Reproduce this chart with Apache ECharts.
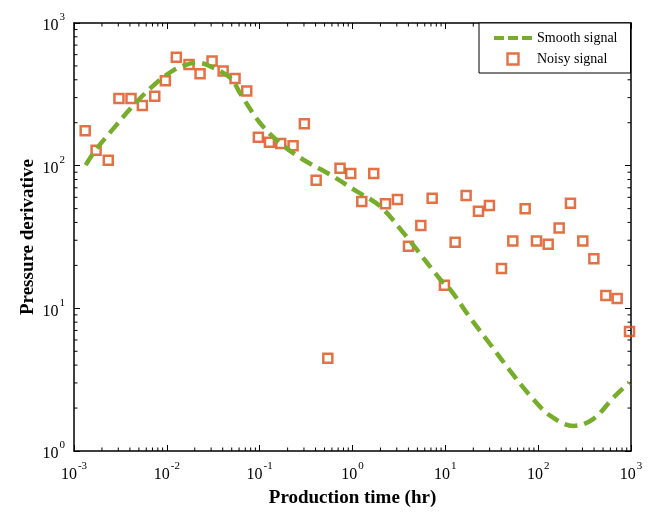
<!DOCTYPE html>
<html>
<head>
<meta charset="utf-8">
<script src="https://cdn.jsdelivr.net/npm/echarts@6/dist/echarts.min.js"></script>
<style>html,body{margin:0;padding:0;background:#fff}#c{width:651px;height:513px}</style>
</head>
<body>
<div id="c"></div>
<script>
// Smooth signal (green dashed line)
const smoothX = [0.001337,0.001714,0.002698,0.004246,0.007278,0.01197,0.01734,0.02133,0.02729,0.04887,0.06152,0.1009,0.1660,0.2958,0.5741,1.112,1.982,3.540,8.790,11.27,18.49,30.41,49.89,82.04,134.6,239.9,394.5,647.1,957.2];
const smoothY = [101,129,184,260,368,469,517,527,508,410,322,199,144,110,86.5,66,52,33.8,16,13.6,8.6,5.6,3.65,2.44,1.77,1.50,1.68,2.37,3.02];
// Noisy signal (orange squares)
const noisyX = [0.00132,0.00173,0.00234,0.00305,0.00411,0.00545,0.00741,0.00964,0.01265,0.01734,0.0228,0.0307,0.0404,0.0543,0.0726,0.0968,0.1274,0.1687,0.229,0.303,0.406,0.542,0.734,0.957,1.259,1.694,2.265,3.048,4.009,5.445,7.211,9.772,12.76,16.75,22.75,29.85,40.27,53.33,72.44,95.94,128.2,168.3,222.8,302.7,398.1,535.8,709.6,963.9];
const noisyY = [176,128,109,296,296,264,307,393,575,511,440,542,461,408,334,158,146,143,138,197,79,4.47,96,88,56,88,54,58,27.2,38,59,14.5,29.1,61.7,47.9,52.5,19.0,29.6,49.8,29.6,28.1,36.6,54.5,29.6,22.3,12.3,11.7,6.87];
// Axes
const xMin = 0.001, xMax = 1000, yMin = 1, yMax = 1000;
const xTitle = 'Production time (hr)';
const yTitle = 'Pressure derivative';
const seriesNames = ['Smooth signal', 'Noisy signal'];

const GREEN = '#77AD2B', ORANGE = '#DC4E17';
const FONT = '"Liberation Serif", "Times New Roman", serif';

function minorVals(lo, hi) {
  const out = [];
  for (let e = Math.round(Math.log10(lo)); e < Math.round(Math.log10(hi)); e++) {
    for (let m = 2; m <= 9; m++) out.push(m * Math.pow(10, e));
  }
  return out;
}
const xMinor = minorVals(xMin, xMax).map(v => ({value: [v, 0], axis: 'x'}));
const yMinor = minorVals(yMin, yMax).map(v => ({value: [0, v], axis: 'y'}));

function powLabel(v) {
  const e = Math.round(Math.log10(v));
  return '{b|10}{s|' + e + '}';
}
const rich = {
  b: {fontFamily: FONT, fontSize: 16, color: '#000', lineHeight: 22, verticalAlign: 'bottom'},
  s: {fontFamily: FONT, fontSize: 11, color: '#000', lineHeight: 22, verticalAlign: 'top', padding: [0, 0, 0, 1]}
};

const axisCommon = {
  type: 'log', logBase: 10,
  axisLine: {show: true, lineStyle: {color: '#000', width: 1.5}},
  axisTick: {show: true, inside: true, length: 6, lineStyle: {color: '#000', width: 1}},
  splitLine: {show: false},
  minorTick: {show: false}
};

const chart = echarts.init(document.getElementById('c'), null, {renderer: 'canvas'});
chart.setOption({
  backgroundColor: '#fff',
  animation: false,
  grid: {left: 74, right: 20, top: 23, bottom: 61, containLabel: false},
  xAxis: [
    Object.assign({}, axisCommon, {
      min: xMin, max: xMax, position: 'bottom',
      name: xTitle, nameLocation: 'middle', nameGap: 38, nameMoveOverlap: false,
      nameTextStyle: {fontFamily: FONT, fontSize: 19, fontWeight: 'bold', color: '#000'},
      axisLabel: {formatter: powLabel, rich: rich, margin: 10}
    }),
    Object.assign({}, axisCommon, {
      min: xMin, max: xMax, position: 'top', axisLabel: {show: false}
    })
  ],
  yAxis: [
    Object.assign({}, axisCommon, {
      min: yMin, max: yMax, position: 'left',
      name: yTitle, nameLocation: 'middle', nameGap: 36, nameMoveOverlap: false,
      nameTextStyle: {fontFamily: FONT, fontSize: 19, fontWeight: 'bold', color: '#000'},
      axisLabel: {formatter: powLabel, rich: rich, margin: 9}
    }),
    Object.assign({}, axisCommon, {
      min: yMin, max: yMax, position: 'right', axisLabel: {show: false}
    })
  ],
  legend: {
    left: 479, top: 23,
    orient: 'vertical',
    padding: [8, 13, 7, 15],
    itemGap: 7,
    itemWidth: 38, itemHeight: 11,
    symbolKeepAspect: true,
    borderColor: '#000', borderWidth: 1, borderRadius: 0,
    backgroundColor: '#fff',
    textStyle: {fontFamily: FONT, fontSize: 14, color: '#000'},
    data: [
      {name: seriesNames[0], icon: 'path://M0,0H10V4H0Z M14,0H24V4H14Z M28,0H38V4H28Z',
       itemStyle: {color: GREEN, borderWidth: 0}},
      {name: seriesNames[1], icon: 'path://M0,0H10V10H0Z',
       itemStyle: {color: 'rgba(255,255,255,0)', borderColor: ORANGE, borderWidth: 2.4}}
    ]
  },
  series: [
    {
      name: 'minorTicks', type: 'custom', silent: true, clip: false,
      data: xMinor.concat(yMinor),
      renderItem: function (params, api) {
        const idx = params.dataIndex;
        const d = idx < xMinor.length ? xMinor[idx] : yMinor[idx - xMinor.length];
        const L = 3.5;
        let children = [];
        if (d.axis === 'x') {
          const pb = api.coord([d.value[0], yMin]);
          const pt = api.coord([d.value[0], yMax]);
          children.push({type: 'line', shape: {x1: pb[0], y1: pb[1], x2: pb[0], y2: pb[1] - L}, style: {stroke: '#000', lineWidth: 1}});
          children.push({type: 'line', shape: {x1: pt[0], y1: pt[1], x2: pt[0], y2: pt[1] + L}, style: {stroke: '#000', lineWidth: 1}});
        } else {
          const pl = api.coord([xMin, d.value[1]]);
          const pr = api.coord([xMax, d.value[1]]);
          children.push({type: 'line', shape: {x1: pl[0], y1: pl[1], x2: pl[0] + L, y2: pl[1]}, style: {stroke: '#000', lineWidth: 1}});
          children.push({type: 'line', shape: {x1: pr[0], y1: pr[1], x2: pr[0] - L, y2: pr[1]}, style: {stroke: '#000', lineWidth: 1}});
        }
        return {type: 'group', children: children};
      },
      z: 1
    },
    {
      name: seriesNames[1], type: 'scatter',
      data: noisyX.map((x, i) => [x, noisyY[i]]),
      symbol: 'rect', symbolSize: 9,
      itemStyle: {color: 'rgba(255,255,255,0)', borderColor: ORANGE, borderWidth: 2.5},
      z: 3
    },
    {
      name: seriesNames[0], type: 'line',
      data: smoothX.map((x, i) => [x, smoothY[i]]),
      smooth: 0.35, symbol: 'none',
      lineStyle: {color: GREEN, width: 4.5, type: [13, 7]},
      itemStyle: {color: GREEN},
      z: 4
    }
  ]
});
</script>
</body>
</html>
